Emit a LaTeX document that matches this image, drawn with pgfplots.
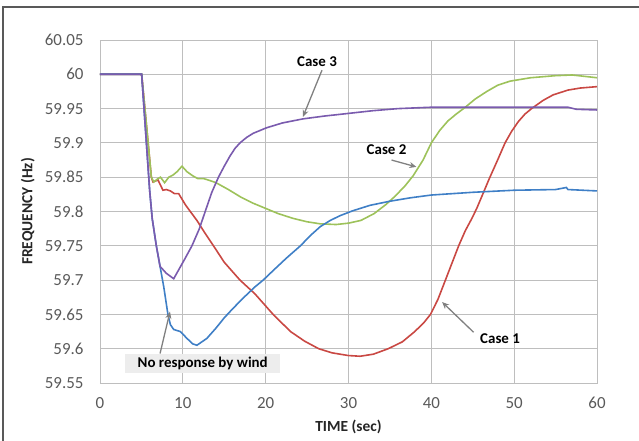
\documentclass[border=0pt]{standalone}
\usepackage{pgfplots}
\pgfplotsset{compat=1.18}
\usepackage{fontspec}
\setmainfont{Carlito}
\usetikzlibrary{arrows.meta}
\definecolor{cpurple}{HTML}{7A5BAE}
\definecolor{cblue}{HTML}{3F7FC6}
\definecolor{cgreen}{HTML}{9DC25A}
\definecolor{cred}{HTML}{C94843}
\definecolor{tickgray}{HTML}{595959}
\definecolor{gridgray}{HTML}{BEBEBE}
\definecolor{arrowgray}{HTML}{808080}
\definecolor{boxgray}{HTML}{EDEDED}
\begin{document}
\begin{tikzpicture}
\useasboundingbox (-100bp,-58bp) rectangle (539bp,383bp);
\draw[line width=1.5bp, color=tickgray] (-97bp,-60bp) -- (-97bp,376bp) -- (541bp,376bp);
\begin{axis}[
  at={(0,0)}, anchor=south west,
  scale only axis, width=497bp, height=343bp,
  xmin=0, xmax=60, ymin=59.55, ymax=60.05,
  xtick={0,10,20,30,40,50,60},
  ytick={59.55,59.6,59.65,59.7,59.75,59.8,59.85,59.9,59.95,60,60.05},
  /pgf/number format/assume math mode=true,
  /pgf/number format/.cd, fixed, precision=2, /pgfplots/.cd,
  tick label style={font=\fontsize{17}{19}\selectfont, color=tickgray},
  yticklabel style={xshift=-13bp},
  xticklabel style={yshift=-11bp},
  major tick length=0pt,
  grid=major,
  major grid style={color=gridgray, line width=0.9bp},
  axis line style={color=gridgray, line width=0.9bp},
  every axis y label/.style={at={(axis description cs:-0.145,0.5)}, rotate=90, anchor=center, font=\fontsize{15.5}{18}\bfseries\selectfont, color=black!85},
  every axis x label/.style={at={(axis description cs:0.5,-0.128)}, anchor=center, font=\fontsize{15.5}{18}\bfseries\selectfont, color=black!85},
  xlabel={TIME (sec)},
  ylabel={FREQUENCY (Hz)},
  clip=false,
]
% Case 1 (red)
\addplot[cred, line width=1.6bp] coordinates {
(0,60) (5.03,60) (6.2,59.85) (6.4,59.843) (7.0,59.846) (7.6,59.831) (8.0,59.832) (8.5,59.83) (9.0,59.826) (9.5,59.826) (9.8,59.82) (10.3,59.81) (10.9,59.8) (11.7,59.787) (12.7,59.768) (13.7,59.75) (15,59.726) (16.9,59.70) (18.7,59.68) (20.9,59.65) (23,59.625) (24.7,59.611) (26.4,59.60) (28,59.594) (30,59.59) (31.4,59.589) (33,59.592) (34.8,59.6) (36.5,59.61) (38,59.625) (39.1,59.638) (39.9,59.65) (40.8,59.672) (41.7,59.70) (42.5,59.725) (43.3,59.75) (44.1,59.772) (44.9,59.79) (45.5,59.805) (46.2,59.825) (47,59.848) (48,59.875) (48.9,59.9) (49.7,59.917) (50.5,59.931) (51.3,59.942) (52.1,59.95) (53.5,59.962) (54.7,59.97) (56.5,59.977) (58,59.98) (60,59.982)
};
% Case 2 (green)
\addplot[cgreen, line width=1.6bp] coordinates {
(0,60) (5.03,60) (6.2,59.85) (6.5,59.843) (7.0,59.848) (7.3,59.85) (7.8,59.842) (8.3,59.85) (8.8,59.853) (9.3,59.858) (9.9,59.866) (10.5,59.858) (11.2,59.852) (11.8,59.848) (12.5,59.848) (13.3,59.845) (14,59.842) (15.5,59.832) (17,59.821) (18.5,59.812) (20.1,59.804) (21.5,59.797) (23.3,59.79) (25,59.785) (26.6,59.782) (28.5,59.781) (30,59.783) (31.5,59.787) (33.1,59.797) (34.5,59.81) (35.6,59.822) (36.8,59.837) (37.8,59.852) (39,59.875) (40,59.9) (41,59.918) (42,59.932) (43,59.942) (44.1,59.952) (45.3,59.964) (46.7,59.975) (48,59.984) (49.5,59.99) (52,59.995) (55,59.998) (57,59.999) (60,59.995)
};
% No response by wind (blue)
\addplot[cblue, line width=1.6bp] coordinates {
(0,60) (5.03,60) (6.0,59.83) (6.3,59.79) (6.8,59.75) (7.25,59.72) (7.7,59.69) (8.2,59.65) (8.5,59.635) (8.9,59.628) (9.7,59.625) (10.5,59.615) (11.2,59.607) (11.7,59.605) (12.9,59.615) (14,59.63) (15,59.645) (16,59.658) (17.3,59.674) (18.7,59.69) (19.7,59.70) (21,59.715) (22.5,59.732) (24.2,59.75) (25.4,59.765) (26.6,59.778) (27.8,59.787) (29,59.794) (30.5,59.801) (32.6,59.809) (35,59.815) (37.5,59.82) (40,59.824) (45,59.828) (50,59.831) (55,59.832) (56.3,59.835) (56.5,59.832) (60,59.83)
};
% Case 3 (purple)
\addplot[cpurple, line width=1.6bp] coordinates {
(0,60) (5.03,60) (6.0,59.83) (6.3,59.79) (6.8,59.75) (7.25,59.72) (8.0,59.71) (8.9,59.702) (9.5,59.715) (10.2,59.73) (11.1,59.75) (12.0,59.775) (12.7,59.80) (13.5,59.828) (14.3,59.85) (15.0,59.866) (15.7,59.881) (16.3,59.892) (16.9,59.90) (17.7,59.908) (18.5,59.914) (19.3,59.918) (20.1,59.922) (22,59.929) (24.5,59.935) (27,59.939) (30,59.943) (33,59.947) (36,59.95) (40,59.952) (45,59.952) (50,59.952) (56.5,59.952) (57.5,59.949) (60,59.948)
};
% annotations
\node[font=\fontsize{15}{17}\bfseries\selectfont] at (axis cs:26.2,60.018) {Case 3};
\draw[arrowgray, line width=1.3bp, -{Stealth[length=7bp,width=6bp]}] (axis cs:26.8,60.006) -- (axis cs:24.5,59.938);
\node[font=\fontsize{15}{17}\bfseries\selectfont] at (axis cs:34.6,59.89) {Case 2};
\draw[arrowgray, line width=1.3bp, -{Stealth[length=7bp,width=6bp]}] (axis cs:35.2,59.875) -- (axis cs:38.2,59.865);
\node[font=\fontsize{15}{17}\bfseries\selectfont] at (axis cs:48.3,59.615) {Case 1};
\draw[arrowgray, line width=1.3bp, -{Stealth[length=7bp,width=6bp]}] (axis cs:45.1,59.624) -- (axis cs:41.3,59.668);
\draw[arrowgray, line width=1.3bp, -{Stealth[length=7bp,width=6bp]}] (axis cs:7.25,59.593) -- (axis cs:8.45,59.654);
\node[font=\fontsize{15}{17}\bfseries\selectfont, fill=boxgray, minimum width=155bp, minimum height=19bp, inner sep=0pt] at (axis cs:12.4,59.579) {No response by wind};
\end{axis}
\end{tikzpicture}
\end{document}
